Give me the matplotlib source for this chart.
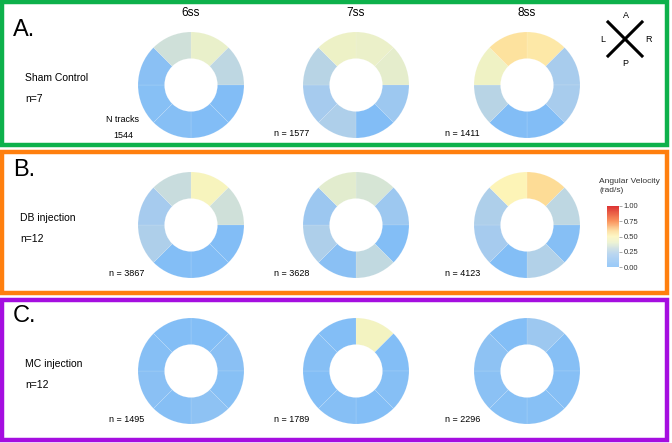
import numpy as np
import matplotlib
matplotlib.use('Agg')
import matplotlib.pyplot as plt
from matplotlib.colors import LinearSegmentedColormap, Normalize
from matplotlib.patches import Rectangle
from matplotlib.lines import Line2D
import matplotlib.colorbar as mcolorbar

plt.rcParams['font.family'] = ['Liberation Sans', 'DejaVu Sans']

# stages and groups
stages = ['6ss', '7ss', '8ss']
group_letters = ['A.', 'B.', 'C.']
group_names = ['Sham Control', 'DB injection', 'MC injection']
group_n = ['n=7', 'n=12', 'n=12']

# track counts per group / stage
tracks_sham = [1544, 1577, 1411]
tracks_db = [3867, 3628, 4123]
tracks_mc = [1495, 1789, 2296]

# angular velocity (rad/s), 8 sectors clockwise starting at the top
sham_6ss = [0.40, 0.28, 0.02, 0.02, 0.04, 0.05, 0.06, 0.33]
sham_7ss = [0.41, 0.39, 0.16, 0.02, 0.23, 0.20, 0.26, 0.42]
sham_8ss = [0.54, 0.21, 0.21, 0.02, 0.02, 0.26, 0.43, 0.56]
db_6ss = [0.47, 0.33, 0.02, 0.02, 0.03, 0.23, 0.20, 0.31]
db_7ss = [0.35, 0.16, 0.03, 0.29, 0.06, 0.23, 0.15, 0.38]
db_8ss = [0.58, 0.28, 0.04, 0.24, 0.03, 0.20, 0.23, 0.50]
mc_6ss = [0.03, 0.06, 0.05, 0.08, 0.04, 0.06, 0.04, 0.03]
mc_7ss = [0.45, 0.03, 0.04, 0.03, 0.04, 0.03, 0.04, 0.03]
mc_8ss = [0.16, 0.04, 0.04, 0.05, 0.05, 0.07, 0.08, 0.03]

cbar_ticks = [0.0, 0.25, 0.5, 0.75, 1.0]

cmap = LinearSegmentedColormap.from_list('angvel', [
    (0.0, '#7ebcf7'), (0.2, '#a6cbee'), (0.3, '#c4dadf'), (0.4, '#e9f0ca'),
    (0.5, '#fdf5b8'), (0.6, '#fdd68e'), (0.75, '#f97a35'), (1.0, '#d40000')])

W, H = 672, 443
fig = plt.figure(figsize=(W / 100, H / 100), dpi=100)
fig.patch.set_facecolor('white')


def fx(x):
    return x / W


def fy(y):
    return 1 - y / H


rows = [
    (sham_6ss, sham_7ss, sham_8ss, tracks_sham),
    (db_6ss, db_7ss, db_8ss, tracks_db),
    (mc_6ss, mc_7ss, mc_8ss, tracks_mc),
]
row_cy = [85, 225, 371]
col_cx = [191, 356, 527]
panel_box = [(2, 2, 145), (2, 152, 293), (2, 300, 440)]
panel_col = ['#0db14b', '#ff7f0e', '#a50ee0']
r = 53

for i, (v6, v7, v8, tracks) in enumerate(rows):
    x0, y0, y1 = panel_box[i]
    fig.add_artist(Rectangle((fx(x0), fy(y1)), fx(667 - x0), (y1 - y0) / H,
                             transform=fig.transFigure, fill=False,
                             edgecolor=panel_col[i], linewidth=3.2))
    fig.text(fx(13), fy(row_cy[i] - 55), group_letters[i], fontsize=17,
             va='center', ha='left')
    lx = 25 if i != 1 else 20
    fig.text(fx(lx), fy(row_cy[i] - 7), group_names[i], fontsize=7.5, va='center')
    fig.text(fx(lx), fy(row_cy[i] + 14), group_n[i], fontsize=7.5, va='center')

    for j, vals in enumerate([v6, v7, v8]):
        cx, cy = col_cx[j], row_cy[i]
        ax = fig.add_axes([fx(cx - r), fy(cy + r), 2 * r / W, 2 * r / H])
        ax.pie(np.ones(len(vals)), colors=cmap(np.array(vals)), startangle=90,
               counterclock=False,
               wedgeprops=dict(width=0.5, edgecolor=(1, 1, 1, 0.18), linewidth=0.4))
        ax.set_xlim(-1, 1)
        ax.set_ylim(-1, 1)
        ax.set_aspect('equal')
        ax.axis('off')

        if i == 0 and j == 0:
            fig.text(fx(123), fy(119), 'N tracks', fontsize=6.5, ha='center', va='center')
            fig.text(fx(123), fy(135), str(tracks[j]), fontsize=6.5, ha='center', va='center')
        else:
            fig.text(fx(cx - 82), fy(cy + 48), 'n = %d' % tracks[j], fontsize=6.5,
                     ha='left', va='center')
        if i == 0:
            fig.text(fx(cx), fy(13), stages[j], fontsize=8.5, ha='center', va='center')

# compass
fig.add_artist(Line2D([fx(608), fx(642)], [fy(22), fy(56)], transform=fig.transFigure,
                      color='black', linewidth=2.2))
fig.add_artist(Line2D([fx(608), fx(642)], [fy(56), fy(22)], transform=fig.transFigure,
                      color='black', linewidth=2.2))
for lab, (x, y) in zip(['A', 'L', 'R', 'P'], [(626, 15), (603, 39), (649, 39), (625, 63)]):
    fig.text(fx(x), fy(y), lab, fontsize=6.5, ha='center', va='center')

# colorbar
fig.text(fx(599), fy(186), 'Angular Velocity\n(rad/s)', fontsize=6, ha='left',
         va='center', color='#333333', linespacing=1.3)
cax = fig.add_axes([fx(607), fy(267), 12 / W, 61 / H])
cb = mcolorbar.ColorbarBase(cax, cmap=cmap, norm=Normalize(0, 1), alpha=0.8,
                            ticks=cbar_ticks)
cb.outline.set_visible(False)
cb.ax.set_yticklabels(['%.2f' % t for t in cbar_ticks])
cb.ax.tick_params(labelsize=5.5, length=2, width=0.5, color='#888888', pad=1.5,
                  labelcolor='#333333')

plt.savefig('out.png', dpi=100, facecolor='white')
